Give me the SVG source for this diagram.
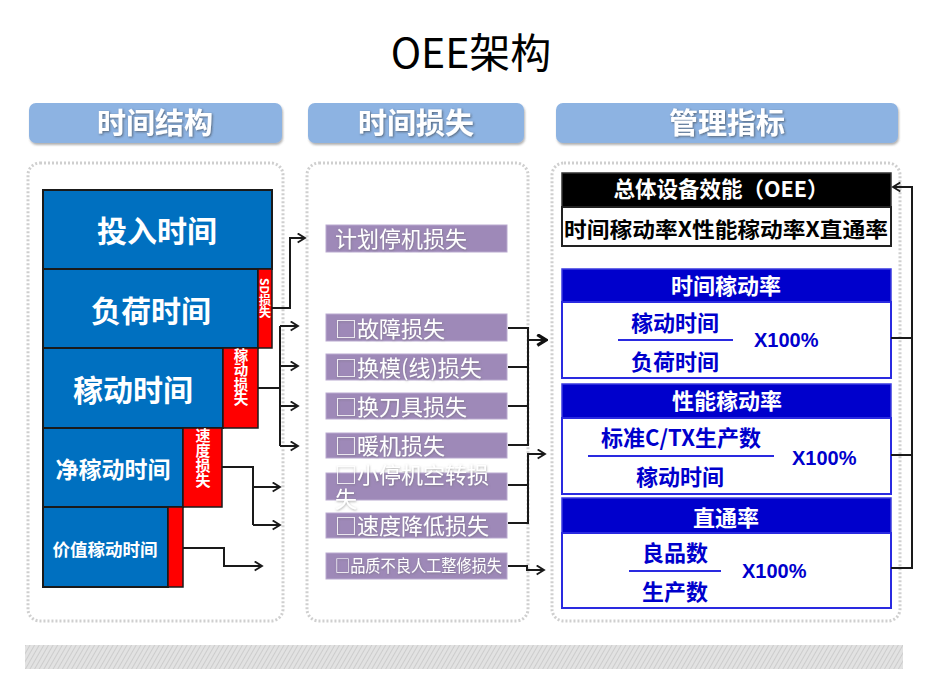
<svg xmlns="http://www.w3.org/2000/svg" width="926" height="694" viewBox="0 0 926 694">
<defs>
<style>
.cjk{font-family:"Noto Sans CJK SC","Noto Sans",sans-serif}
.hdr{fill:#8DB3E2}
.hdrt{font-family:"Noto Sans CJK SC",sans-serif;font-weight:700;font-size:29px;fill:#fff;text-anchor:middle}
.panel{fill:none;stroke:#cfcfcf;stroke-width:3;stroke-dasharray:2 2}
.blk{fill:#0070C0;stroke:#1a1a1a;stroke-width:2}
.red{fill:#FF0000;stroke:#1a1a1a;stroke-width:1.5}
.blkt{font-family:"Noto Sans CJK SC",sans-serif;font-weight:700;fill:#fff;text-anchor:middle}
.vt{font-family:"Noto Sans CJK SC",sans-serif;font-weight:700;fill:#fff;writing-mode:vertical-rl}
.pur{fill:#9E89B8;stroke:#b9a9cf;stroke-width:1}
.purt{font-family:"Noto Sans CJK SC",sans-serif;font-weight:400;fill:#fff}
.con{fill:none;stroke:#1a1a1a;stroke-width:2}
.bh{fill:#0000CC;stroke:#3a3ae0;stroke-width:1.5}
.bb{fill:#fff;stroke:#2a2ae0;stroke-width:2}
.wt{font-family:"Noto Sans CJK SC",sans-serif;font-weight:700;fill:#fff;text-anchor:middle}
.bt{font-family:"Noto Sans CJK SC",sans-serif;font-weight:700;font-size:22px;fill:#0000CC;text-anchor:middle}
.pct{font-family:"Liberation Sans",Arial,sans-serif;font-weight:700;font-size:20px;fill:#0000CC}
.frac{stroke:#2a2ae0;stroke-width:2}
</style>
<marker id="arr" viewBox="0 0 12 12" refX="10" refY="6" markerWidth="11" markerHeight="11" markerUnits="userSpaceOnUse" orient="auto">
<path d="M2,1 L10,6 L2,11" fill="none" stroke="#1a1a1a" stroke-width="2"/>
</marker>
<marker id="arrb" viewBox="0 0 12 12" refX="10" refY="6" markerWidth="13" markerHeight="13" markerUnits="userSpaceOnUse" orient="auto">
<path d="M2,1 L10,6 L2,11" fill="none" stroke="#111" stroke-width="3"/>
</marker>
<pattern id="hatch" width="4" height="4" patternUnits="userSpaceOnUse" patternTransform="rotate(30)">
<rect width="4" height="4" fill="#e2e2e2"/>
<line x1="0" y1="0" x2="0" y2="4" stroke="#bdbdbd" stroke-width="1.2"/>
</pattern>
<filter id="sh" x="-10%" y="-20%" width="120%" height="150%">
<feDropShadow dx="1" dy="2" stdDeviation="1.2" flood-color="#555" flood-opacity="0.45"/>
</filter>
<filter id="tsh" x="-10%" y="-20%" width="120%" height="150%">
<feDropShadow dx="1" dy="1" stdDeviation="0.8" flood-color="#333" flood-opacity="0.6"/>
</filter>
<filter id="psh" x="-10%" y="-30%" width="120%" height="160%">
<feDropShadow dx="0.5" dy="1" stdDeviation="1.2" flood-color="#666" flood-opacity="0.55"/>
</filter>
</defs>
<rect width="926" height="694" fill="#fff"/>
<text x="471" y="68" class="cjk" font-size="41" text-anchor="middle" fill="#000">OEE架构</text>

<g id="headers">
<rect class="hdr" x="29" y="103" width="253" height="40" rx="7" filter="url(#sh)"/>
<text class="hdrt" x="155" y="134" filter="url(#tsh)">时间结构</text>
<rect class="hdr" x="308" y="103" width="216" height="40" rx="7" filter="url(#sh)"/>
<text class="hdrt" x="416" y="134" filter="url(#tsh)">时间损失</text>
<rect class="hdr" x="556" y="103" width="342" height="40" rx="7" filter="url(#sh)"/>
<text class="hdrt" x="727" y="134" filter="url(#tsh)">管理指标</text>
</g>

<g id="panels">
<rect class="panel" x="28" y="163" width="255" height="458" rx="12"/>
<rect class="panel" x="307" y="163" width="221" height="458" rx="12"/>
<rect class="panel" x="552" y="163" width="348" height="458" rx="12"/>
</g>

<rect id="stripe" x="25" y="645" width="878" height="24" fill="url(#hatch)"/>

<g id="time-structure">
<g id="n-input"><rect class="blk" x="43" y="190" width="229" height="79"/><text class="blkt" x="157" y="242" font-size="30">投入时间</text></g>
<g id="n-load"><rect class="blk" x="43" y="269" width="215" height="79"/><text class="blkt" x="151" y="322" font-size="30">负荷时间</text></g>
<g id="n-sd"><rect class="red" x="258" y="269" width="14" height="79"/>
<text class="vt" x="265" y="278" font-size="12">SD损失</text></g>
<g id="n-run"><rect class="blk" x="43" y="348" width="180" height="80"/><text class="blkt" x="133" y="401" font-size="30">稼动时间</text></g>
<g id="n-runloss"><rect class="red" x="223" y="348" width="35" height="80"/>
<text class="vt" x="241" y="348" font-size="14.5">稼动损失</text></g>
<g id="n-net"><rect class="blk" x="43" y="428" width="140" height="79"/><text class="blkt" x="113" y="478" font-size="23">净稼动时间</text></g>
<g id="n-speed"><rect class="red" x="183" y="428" width="39" height="79"/>
<text class="vt" x="203" y="428" font-size="15">速度损失</text></g>
<g id="n-value"><rect class="blk" x="43" y="507" width="125" height="80"/><text class="blkt" x="105" y="556" font-size="17.5">价值稼动时间</text></g>
<g id="n-quality"><rect class="red" x="168" y="507" width="15" height="80"/></g>
</g>

<g id="time-loss">
<g id="l1"><rect class="pur" x="326" y="225" width="181" height="27"/><text class="purt" x="335" y="247" font-size="22" filter="url(#psh)">计划停机损失</text></g>
<g id="l2"><rect class="pur" x="326" y="314" width="181" height="27"/><text class="purt" x="335" y="337" font-size="22" filter="url(#psh)">□故障损失</text></g>
<g id="l3"><rect class="pur" x="326" y="354" width="181" height="26"/><text class="purt" x="335" y="376" font-size="22" filter="url(#psh)">□换模(线)损失</text></g>
<g id="l4"><rect class="pur" x="326" y="393" width="181" height="26"/><text class="purt" x="335" y="415" font-size="22" filter="url(#psh)">□换刀具损失</text></g>
<g id="l5"><rect class="pur" x="326" y="433" width="181" height="25"/><text class="purt" x="335" y="454" font-size="22" filter="url(#psh)">□暖机损失</text></g>
<g id="l6"><rect class="pur" x="326" y="473" width="181" height="27"/><text class="purt" font-size="22" filter="url(#psh)"><tspan x="335" y="483">□小停机空转损</tspan><tspan x="335" y="507">失</tspan></text></g>
<g id="l7"><rect class="pur" x="326" y="513" width="181" height="25"/><text class="purt" x="335" y="534" font-size="22" filter="url(#psh)">□速度降低损失</text></g>
<g id="l8"><rect class="pur" x="326" y="553" width="181" height="26"/><text class="purt" x="335" y="572" font-size="16.5" textLength="167" lengthAdjust="spacingAndGlyphs" filter="url(#psh)">□品质不良人工整修损失</text></g>
</g>

<g id="indicators">
<g id="oee">
<rect x="562" y="173" width="329" height="34" fill="#000" stroke="#333" stroke-width="1.5"/>
<text class="wt" x="721" y="197" font-size="21.5">总体设备效能（OEE）</text>
<rect x="562" y="207" width="329" height="39" fill="#fff" stroke="#222" stroke-width="2"/>
<text x="726" y="237" class="cjk" font-weight="700" font-size="21" fill="#000" text-anchor="middle" textLength="324" lengthAdjust="spacingAndGlyphs">时间稼动率X性能稼动率X直通率</text>
</g>
<g id="availability">
<rect class="bh" x="562" y="269" width="329" height="33"/>
<text class="wt" x="726" y="294" font-size="22">时间稼动率</text>
<rect class="bb" x="562" y="302" width="329" height="76"/>
<text class="bt" x="675" y="331">稼动时间</text>
<line class="frac" x1="618" y1="340" x2="733" y2="340"/>
<text class="bt" x="675" y="370">负荷时间</text>
<text class="pct" x="754" y="347">X100%</text>
</g>
<g id="performance">
<rect class="bh" x="562" y="384" width="329" height="34"/>
<text class="wt" x="727" y="409" font-size="22">性能稼动率</text>
<rect class="bb" x="562" y="418" width="329" height="76"/>
<text class="bt" x="681" y="446">标准C/TX生产数</text>
<line class="frac" x1="588" y1="456" x2="774" y2="456"/>
<text class="bt" x="680" y="485">稼动时间</text>
<text class="pct" x="792" y="465">X100%</text>
</g>
<g id="quality">
<rect class="bh" x="562" y="498" width="329" height="35"/>
<text class="wt" x="726" y="526" font-size="22">直通率</text>
<rect class="bb" x="562" y="533" width="329" height="75"/>
<text class="bt" x="675" y="561">良品数</text>
<line class="frac" x1="629" y1="571" x2="721" y2="571"/>
<text class="bt" x="675" y="600">生产数</text>
<text class="pct" x="742" y="578">X100%</text>
</g>
</g>

<g id="connectors">
<path class="con" d="M272,308 H290 V238 H305" marker-end="url(#arr)"/>
<path class="con" d="M258,388 H280"/>
<path class="con" d="M280,326 V446"/>
<path class="con" d="M280,326 H298" marker-end="url(#arr)"/>
<path class="con" d="M280,366 H298" marker-end="url(#arr)"/>
<path class="con" d="M280,406 H298" marker-end="url(#arr)"/>
<path class="con" d="M280,446 H298" marker-end="url(#arr)"/>
<path class="con" d="M222,467 H253 V525"/>
<path class="con" d="M253,487 H280" marker-end="url(#arr)"/>
<path class="con" d="M253,525 H280" marker-end="url(#arr)"/>
<path class="con" d="M183,548 H224 V566 H262" marker-end="url(#arr)"/>

<path class="con" d="M508,328 H528 V445 H508"/>
<path class="con" d="M508,367 H528"/>
<path class="con" d="M508,406 H528"/>
<path class="con" d="M528,340 H546" stroke-width="3" marker-end="url(#arrb)"/>
<path class="con" d="M508,485 H528"/>
<path class="con" d="M508,523 H528 V454 H545" marker-end="url(#arr)"/>
<path class="con" d="M508,566 H527 V570 H544" marker-end="url(#arr)"/>

<path class="con" d="M891,338 H912"/>
<path class="con" d="M891,455 H912"/>
<path class="con" d="M891,568 H912 V187 H893" marker-end="url(#arr)"/>
</g>
</svg>
